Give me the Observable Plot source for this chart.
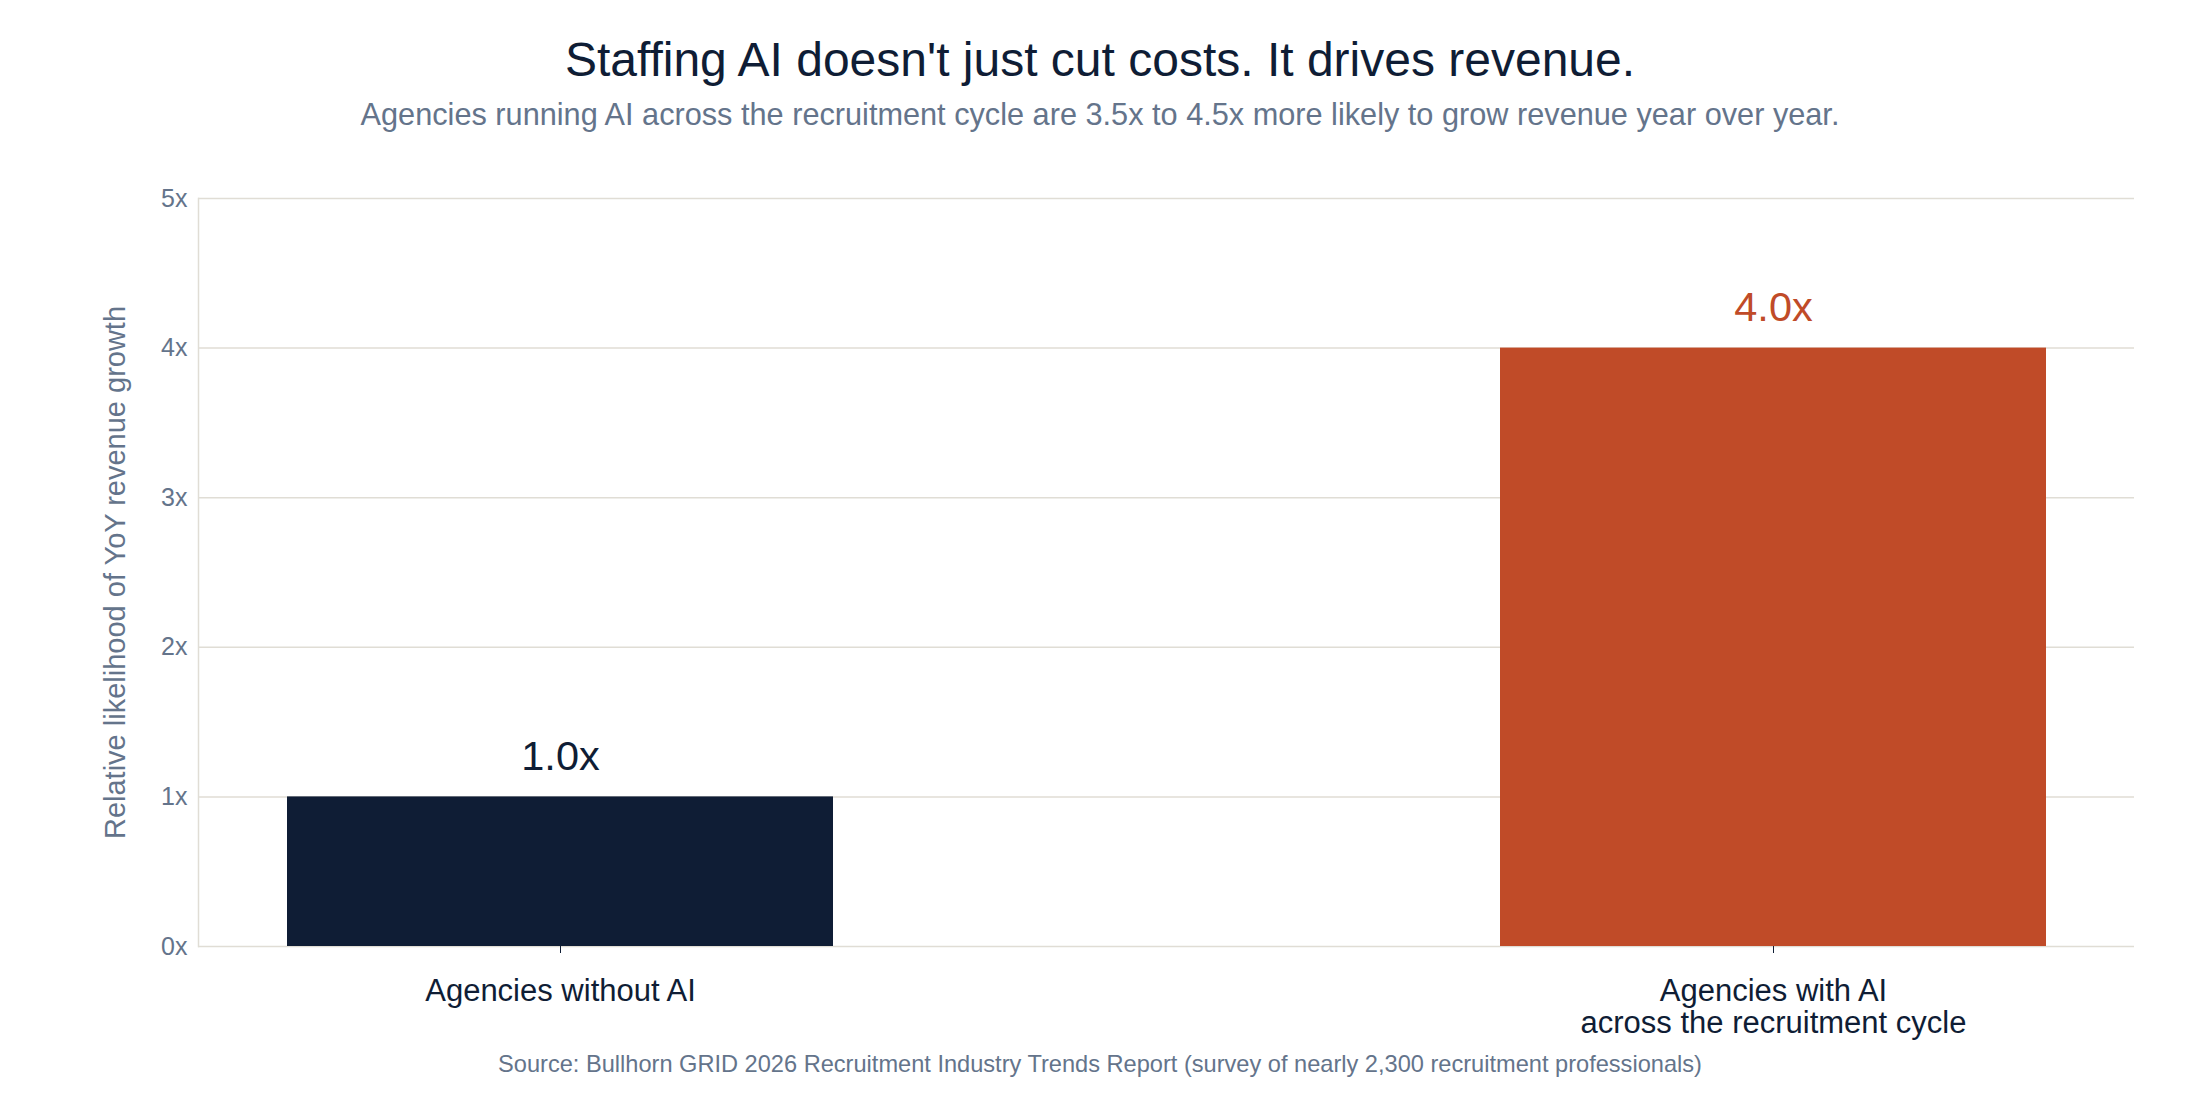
<!DOCTYPE html>
<html>
<head>
<meta charset="utf-8">
<script src="https://cdn.jsdelivr.net/npm/d3@7"></script>
<script src="https://cdn.jsdelivr.net/npm/@observablehq/plot@0.6"></script>
<style>
  html, body { margin: 0; padding: 0; background: #ffffff; }
  body { width: 2200px; height: 1100px; position: relative; overflow: hidden; font-family: "Liberation Sans", Arial, sans-serif; }
  #title { position: absolute; left: 0; width: 2200px; top: 36px; text-align: center; font-size: 48px; line-height: 1; color: #0f1d35; }
  #subtitle { position: absolute; left: 0; width: 2200px; top: 100px; text-align: center; font-size: 30.7px; line-height: 1; color: #64748b; }
  #chart { position: absolute; left: 0; top: 150px; }
  #caption { position: absolute; left: 0; width: 2200px; top: 1053px; text-align: center; font-size: 23.6px; line-height: 1; color: #64748b; }
</style>
</head>
<body>
<div id="title">Staffing AI doesn't just cut costs. It drives revenue.</div>
<div id="subtitle">Agencies running AI across the recruitment cycle are 3.5x to 4.5x more likely to grow revenue year over year.</div>
<div id="chart"></div>
<div id="caption">Source: Bullhorn GRID 2026 Recruitment Industry Trends Report (survey of nearly 2,300 recruitment professionals)</div>
<script>
const categories = ["Agencies without AI", "Agencies with AI\nacross the recruitment cycle"];
const values = [1.0, 4.0];
const valueLabels = ["1.0x", "4.0x"];
const barColors = ["#0f1d35", "#c04b28"];
const yTicks = [0, 1, 2, 3, 4, 5];
const yLabel = "Relative likelihood of YoY revenue growth";

const data = categories.map((c, i) => ({category: c, value: values[i], label: valueLabels[i]}));

const gridColor = "#e0ddd5";
const inkDark = "#0f1d35";
const inkMuted = "#64748b";

const chart = Plot.plot({
  width: 2200,
  height: 890,
  marginTop: 48,
  marginBottom: 94,
  marginLeft: 198,
  marginRight: 66,
  style: {fontFamily: "'Liberation Sans', Arial, sans-serif", background: "transparent"},
  x: {domain: categories, paddingInner: 0.55, paddingOuter: 0.0725},
  y: {domain: [0, 5]},
  color: {domain: categories, range: barColors},
  marks: [
    Plot.ruleY(yTicks, {stroke: gridColor, strokeWidth: 1.5}),
    Plot.frame({anchor: "left", stroke: gridColor, strokeWidth: 1.5}),
    Plot.barY(data, {x: "category", y: "value", fill: "category"}),
    Plot.text(data, {x: "category", y: "value", text: "label", fill: "category", dy: -40, lineAnchor: "middle", fontSize: 41.5}),
    Plot.axisY({ticks: yTicks, tickFormat: d => d + "x", tickSize: 0, tickPadding: 11, fontSize: 25, color: inkMuted, label: null}),
    Plot.axisX({tickSize: 7, tickPadding: 24, fontSize: 31, lineHeight: 1.05, color: inkDark, stroke: inkDark, label: null}),
    Plot.text([yLabel], {frameAnchor: "left", textAnchor: "middle", rotate: -90, dx: -83, fontSize: 29, fill: inkMuted, lineAnchor: "middle"})
  ]
});
document.getElementById("chart").appendChild(chart);
</script>
</body>
</html>
